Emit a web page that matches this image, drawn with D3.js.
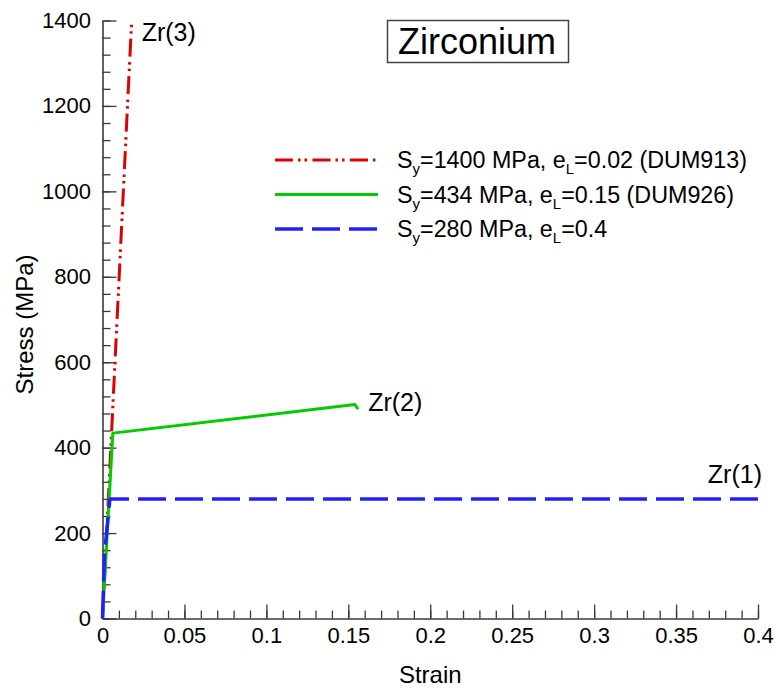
<!DOCTYPE html>
<html>
<head>
<meta charset="utf-8">
<script src="https://cdn.jsdelivr.net/npm/d3@7"></script>
<style>
  html, body { margin: 0; padding: 0; background: #fff; }
  svg { display: block; font-family: "Liberation Sans", Arial, Helvetica, sans-serif; }
</style>
</head>
<body>
<svg id="chart" width="776" height="692"></svg>
<script>
// Stress-strain curves for three zirconium materials
const strainZr1 = [0, 0.0012, 0.0045, 0.4];
const stressZr1 = [0, 150, 280, 280];
const strainZr2 = [0, 0.0063, 0.154, 0.156];
const stressZr2 = [0, 434, 501, 490];
const strainZr3 = [0, 0.0178];
const stressZr3 = [0, 1400];

const curveNames = ["Zr(3)", "Zr(2)", "Zr(1)"];
const legendSy = ["1400", "434", "280"];
const legendEL = ["0.02 (DUM913)", "0.15 (DUM926)", "0.4"];

const xMajorTicks = [0, 0.05, 0.1, 0.15, 0.2, 0.25, 0.3, 0.35, 0.4];
const yMajorTicks = [0, 200, 400, 600, 800, 1000, 1200, 1400];
const xMinorStep = 0.01;
const yMinorStep = 40;

const svg = d3.select("#chart");
const W = 776, H = 692;
const plotL = 102.5, plotR = 758, plotT = 20.5, plotB = 618.5;

const x = d3.scaleLinear().domain([0, 0.4]).range([plotL, plotR]);
const y = d3.scaleLinear().domain([0, 1400]).range([plotB, plotT]);

svg.append("rect").attr("width", W).attr("height", H).attr("fill", "#fff");

const axisColor = "#3a3a3a";

// minor ticks
const xMinor = d3.range(0, 40 + 1).map(i => i * xMinorStep);
const yMinor = d3.range(0, 35 + 1).map(i => i * yMinorStep);

svg.append("g")
  .attr("transform", `translate(0,${plotB})`)
  .call(d3.axisBottom(x).tickValues(xMinor).tickSize(-8).tickSizeOuter(0).tickFormat(""))
  .call(g => g.select(".domain").remove());
svg.append("g")
  .attr("transform", `translate(${plotL},0)`)
  .call(d3.axisLeft(y).tickValues(yMinor).tickSize(-8).tickSizeOuter(0).tickFormat(""))
  .call(g => g.select(".domain").remove());

// major ticks with labels
const xAxis = svg.append("g")
  .attr("transform", `translate(0,${plotB})`)
  .call(d3.axisBottom(x).tickValues(xMajorTicks).tickSize(-14).tickSizeOuter(0)
    .tickPadding(9).tickFormat(d3.format("~g")));
const yAxis = svg.append("g")
  .attr("transform", `translate(${plotL},0)`)
  .call(d3.axisLeft(y).tickValues(yMajorTicks).tickSize(-14).tickSizeOuter(0)
    .tickPadding(11.5).tickFormat(d3.format("d")));

svg.selectAll(".tick line").attr("stroke", axisColor).attr("stroke-width", 1.3);
svg.selectAll(".domain").attr("stroke", axisColor).attr("stroke-width", 1.6);
[xAxis, yAxis].forEach(g => g.selectAll("text")
  .attr("font-size", 22).attr("fill", "#000")
  .attr("font-family", "'Liberation Sans', Arial, sans-serif"));

// axis titles
svg.append("text")
  .attr("x", (plotL + plotR) / 2).attr("y", 683)
  .attr("text-anchor", "middle").attr("font-size", 24).text("Strain");
svg.append("text")
  .attr("transform", `translate(33,${(plotT + plotB) / 2 + 5}) rotate(-90)`)
  .attr("text-anchor", "middle").attr("font-size", 24).text("Stress (MPa)");

// curves
const line = d3.line().x(d => x(d[0])).y(d => y(d[1]));
const series = [
  { xs: strainZr3, ys: stressZr3, color: "#dd0000", dash: "18,5,2.5,4,2.5,5.5", width: 3 },
  { xs: strainZr2, ys: stressZr2, color: "#00cc00", dash: null, width: 3 },
  { xs: strainZr1, ys: stressZr1, color: "#2020ff", dash: "28,9", width: 3.5 }
];

const plot = svg.append("g");
series.forEach(s => {
  plot.append("path")
    .datum(d3.zip(s.xs, s.ys))
    .attr("d", line)
    .attr("fill", "none")
    .attr("stroke", s.color)
    .attr("stroke-width", s.width)
    .attr("stroke-dasharray", s.dash)
    .attr("stroke-linejoin", "round");
});

// curve labels
const labelPos = [
  [x(0.0178) + 10, y(1400) + 20],
  [x(0.156) + 10, y(501) + 6],
  [x(0.4) + 4, y(280) - 16]
];
curveNames.forEach((name, i) => {
  svg.append("text")
    .attr("x", labelPos[i][0]).attr("y", labelPos[i][1])
    .attr("text-anchor", i === 2 ? "end" : "start")
    .attr("font-size", 25).text(name);
});

// title box
const title = svg.append("g");
title.append("rect")
  .attr("x", 387.5).attr("y", 20.5).attr("width", 181).attr("height", 42)
  .attr("fill", "#fff").attr("stroke", "#444").attr("stroke-width", 1.5);
title.append("text")
  .attr("x", 477).attr("y", 53.5)
  .attr("text-anchor", "middle").attr("font-size", 36).text("Zirconium");

// legend
const legend = svg.append("g");
series.forEach((s, i) => {
  const ly = 160 + i * 34.5;
  legend.append("line")
    .attr("x1", 275).attr("x2", 378).attr("y1", ly).attr("y2", ly)
    .attr("stroke", s.color).attr("stroke-width", s.width)
    .attr("stroke-dasharray", s.dash);
  const t = legend.append("text").attr("x", 397).attr("y", ly + 8).attr("font-size", 23.3);
  t.append("tspan").text("S");
  t.append("tspan").attr("font-size", 15).attr("dy", 6).text("y");
  t.append("tspan").attr("dy", -6).text(`=${legendSy[i]} MPa, e`);
  t.append("tspan").attr("font-size", 15).attr("dy", 6).text("L");
  t.append("tspan").attr("dy", -6).text(`=${legendEL[i]}`);
});
</script>
</body>
</html>
